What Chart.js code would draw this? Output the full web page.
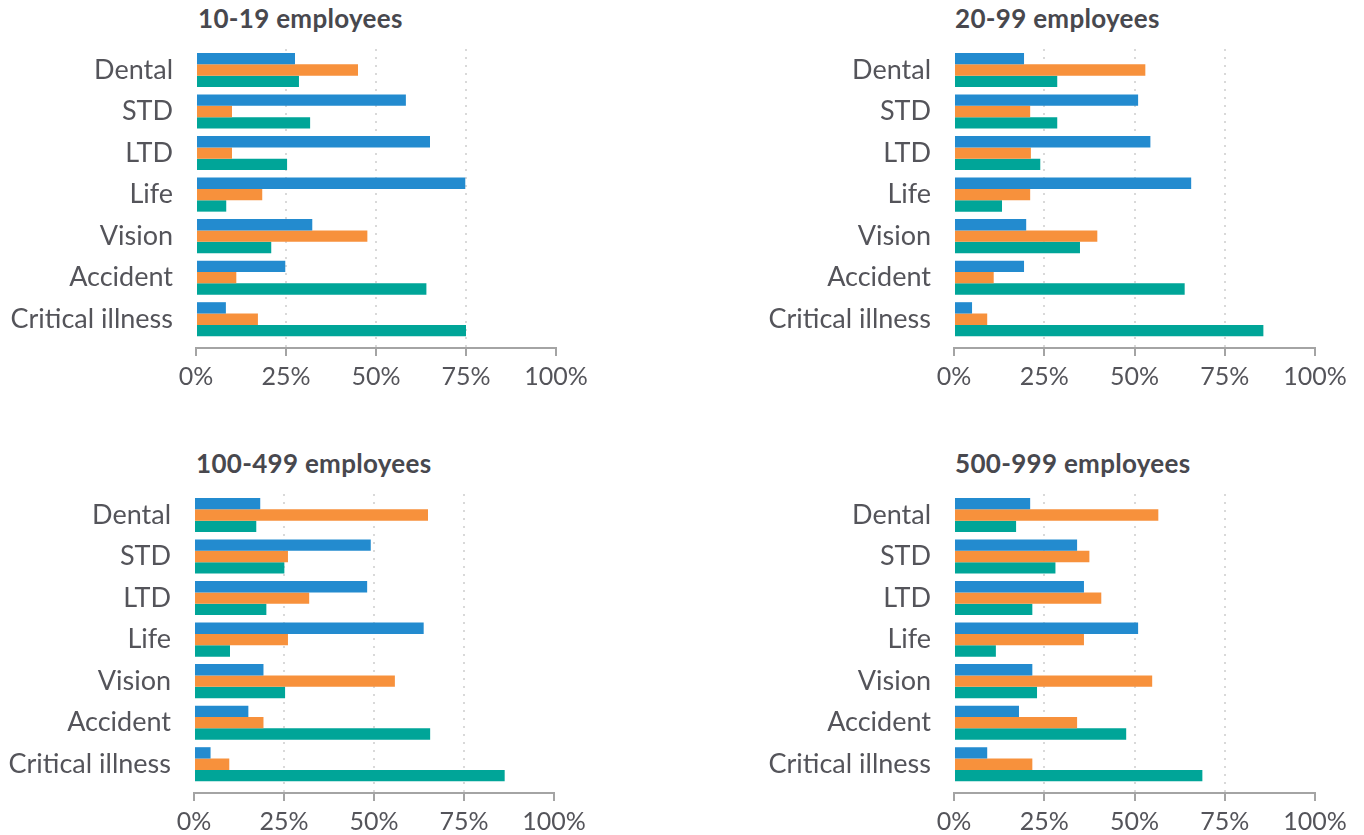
<!DOCTYPE html>
<html lang="en">
<head>
<meta charset="UTF-8">
<title>Benefits by company size</title>
<script src="https://cdn.jsdelivr.net/npm/chart.js"></script>
<style>
  body { margin: 0; background: #fff; }
  #wrap { position: relative; width: 1364px; height: 835px; overflow: hidden; }
  .panel { position: absolute; }
  .title {
    position: absolute; font: bold 26px Lato, sans-serif; line-height: 30px;
    letter-spacing: 0.3px; color: #48484e; white-space: nowrap;
  }
</style>
</head>
<body>
<div id="wrap">
  <div class="title" style="left:198px; top:3px;">10-19 employees</div>
  <div class="title" style="left:955px; top:3px;">20-99 employees</div>
  <div class="title" style="left:196px; top:448px;">100-499 employees</div>
  <div class="title" style="left:955px; top:448px;">500-999 employees</div>
  <canvas id="c1" class="panel" width="680" height="400" style="left:0; top:0;"></canvas>
  <canvas id="c2" class="panel" width="680" height="400" style="left:680px; top:0;"></canvas>
  <canvas id="c3" class="panel" width="680" height="400" style="left:0; top:445px;"></canvas>
  <canvas id="c4" class="panel" width="680" height="400" style="left:680px; top:445px;"></canvas>
</div>

<script>
const benefits = ['Dental', 'STD', 'LTD', 'Life', 'Vision', 'Accident', 'Critical illness'];
const pctTicks = [0, 25, 50, 75, 100];

// 10-19 employees
const blue10 = [27.5, 58.3, 65.0, 74.8, 32.3, 24.8, 8.3];
const orange10 = [45.0, 10.0, 10.0, 18.4, 47.6, 11.2, 17.2];
const teal10 = [28.6, 31.7, 25.3, 8.4, 20.9, 64.0, 75.0];

// 20-99 employees
const blue20 = [19.4, 51.0, 54.4, 65.7, 20.0, 19.4, 5.0];
const orange20 = [53.0, 21.1, 21.3, 21.1, 39.7, 11.0, 9.2];
const teal20 = [28.6, 28.6, 23.9, 13.3, 34.9, 63.9, 85.7];

// 100-499 employees
const blue100 = [18.4, 49.1, 48.1, 63.8, 19.3, 15.1, 4.6];
const orange100 = [65.0, 26.1, 32.0, 26.1, 55.8, 19.3, 9.8];
const teal100 = [17.3, 25.1, 20.1, 10.0, 25.3, 65.6, 86.3];

// 500-999 employees
const blue500 = [21.1, 34.1, 36.0, 51.0, 21.7, 18.0, 9.2];
const orange500 = [56.6, 37.5, 40.8, 36.0, 54.9, 34.1, 21.7];
const teal500 = [17.2, 28.1, 21.7, 11.6, 23.0, 47.7, 68.8];

const seriesColors = ['#238bcf', '#f7913c', '#00a598'];
const textColor = '#54545a';
const fontFamily = 'Lato, sans-serif';

function drawPanel(id, rows, padLeft, padRight) {
  new Chart(document.getElementById(id), {
    type: 'bar',
    data: {
      datasets: rows.map((vals, k) => ({
        data: vals.map((v, i) => ({ x: v, y: i })),
        backgroundColor: seriesColors[k],
        borderWidth: 0,
        categoryPercentage: 0.82,
        barPercentage: 1
      }))
    },
    options: {
      indexAxis: 'y',
      responsive: false,
      animation: false,
      layout: { padding: { left: padLeft, right: padRight, top: 49, bottom: 12 } },
      plugins: { legend: { display: false }, tooltip: { enabled: false } },
      scales: {
        x: {
          type: 'linear', min: 0, max: 100, bounds: 'data',
          afterBuildTicks: s => { s.ticks = pctTicks.map(v => ({ value: v })); },
          afterFit: s => { s.height = 40; },
          ticks: {
            callback: v => v + '%',
            color: textColor, padding: 6, maxRotation: 0,
            font: { family: fontFamily, size: 25 }
          },
          grid: {
            color: c => (c.tick && c.tick.value > 0 && c.tick.value < 100) ? '#d9d9d9' : 'rgba(0,0,0,0)',
            lineWidth: 2,
            tickColor: '#a4a4a4', tickLength: 8, tickWidth: 2
          },
          border: { display: true, color: '#a4a4a4', width: 2, dash: [2, 6] }
        },
        y: {
          // numeric index axis so the category band can sit higher than the axis line
          type: 'linear', reverse: true, offset: false,
          min: -0.506, max: 6.693, bounds: 'data',
          afterBuildTicks: s => { s.ticks = benefits.map((b, i) => ({ value: i })); },
          afterFit: s => { s.width = 190; },
          ticks: {
            callback: v => benefits[v],
            color: textColor, padding: 23,
            font: { family: fontFamily, size: 27 }
          },
          grid: { display: false, drawTicks: false, offset: false },
          border: { display: false }
        }
      }
    }
  });
}

drawPanel('c1', [blue10, orange10, teal10], 6, 124);
drawPanel('c2', [blue20, orange20, teal20], 84, 45);
drawPanel('c3', [blue100, orange100, teal100], 4, 126);
drawPanel('c4', [blue500, orange500, teal500], 84, 45);
</script>
</body>
</html>
